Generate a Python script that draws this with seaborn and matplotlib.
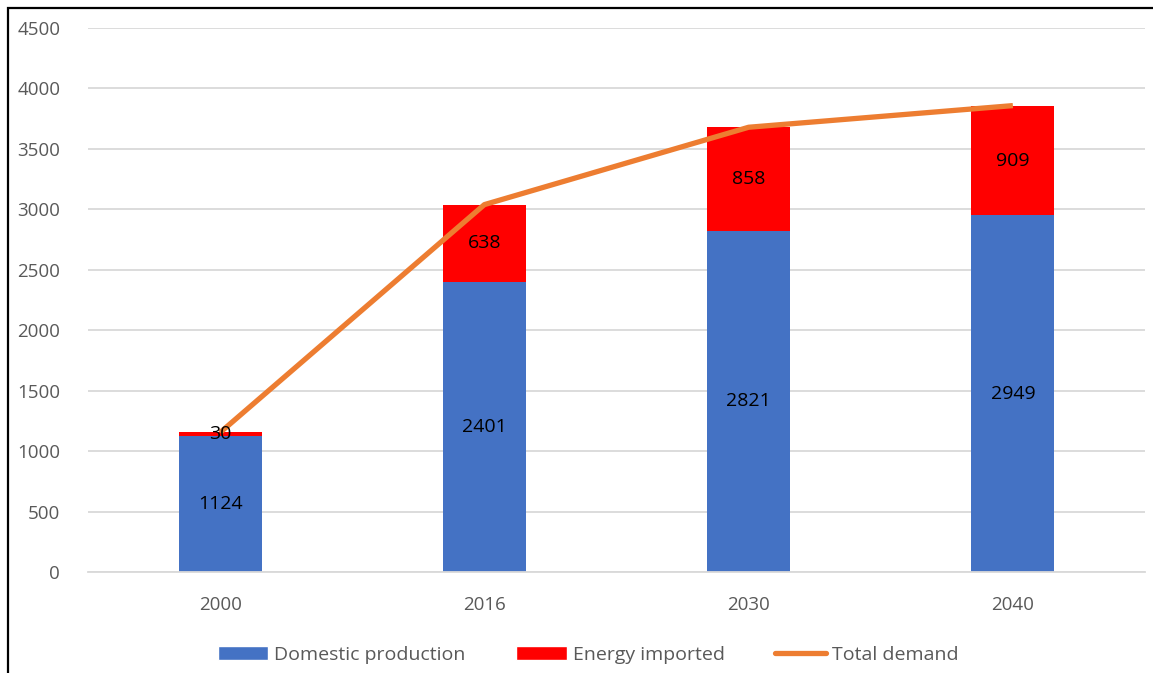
import numpy as np
import pandas as pd
import matplotlib
from matplotlib import pyplot as plt
from matplotlib.patches import Patch, Rectangle
from matplotlib.lines import Line2D
import seaborn as sns

years = ["2000", "2016", "2030", "2040"]
domestic = [1124, 2401, 2821, 2949]
imported = [30, 638, 858, 909]
total = [1154, 3039, 3679, 3858]

BLUE = "#4472C4"
RED = "#FF0000"
ORANGE = "#ED7D31"
GREY = "#595959"

sns.set_style("white")
plt.rcParams["font.family"] = ["Open Sans", "DejaVu Sans"]

df = pd.DataFrame({"year": years, "domestic": domestic, "imported": imported, "total": total})

fig = plt.figure(figsize=(11.53, 6.73), dpi=100)
W, H = 1153, 673
ax = fig.add_axes([88 / W, 1 - 572 / H, (1145 - 88) / W, (572 - 28) / H])

sns.barplot(data=df, x="year", y="domestic", color=BLUE, width=0.315, ax=ax,
            saturation=1, linewidth=0, zorder=2)
sns.barplot(data=df, x="year", y="imported", bottom=df["domestic"], color=RED,
            width=0.315, ax=ax, saturation=1, linewidth=0, zorder=2)
sns.lineplot(data=df, x="year", y="total", color=ORANGE, linewidth=3.8, ax=ax,
             sort=False, zorder=3, solid_capstyle="butt")

# data labels
for i in range(len(years)):
    ax.text(i, domestic[i] / 2, str(domestic[i]), ha="center", va="center",
            fontsize=14, color="black", zorder=4)
    ax.text(i, domestic[i] + imported[i] / 2, str(imported[i]), ha="center",
            va="center", fontsize=14, color="black", zorder=4)

ax.set_xlim(-0.5, 3.5)
ax.set_ylim(0, 4500)
ax.set_yticks(np.arange(0, 4501, 500))
ax.yaxis.grid(True, color="#D9D9D9", linewidth=1.3, zorder=0)
ax.set_axisbelow(True)
for s in ["left", "right", "top"]:
    ax.spines[s].set_visible(False)
ax.spines["bottom"].set_color("#D9D9D9")
ax.spines["bottom"].set_linewidth(1.3)
ax.tick_params(axis="both", length=0, labelsize=13.5, colors=GREY)
ax.tick_params(axis="x", pad=17)
ax.tick_params(axis="y", pad=20)
ax.set_xlabel("")
ax.set_ylabel("")

handles = [Patch(facecolor=BLUE, label="Domestic production"),
           Patch(facecolor=RED, label="Energy imported"),
           Line2D([0], [0], color=ORANGE, linewidth=3.8, label="Total demand")]
fig.legend(handles=handles, loc="center", bbox_to_anchor=(0.51, 1 - 655 / H), ncol=3,
           frameon=False, fontsize=14, labelcolor=GREY, handlelength=2.6,
           handleheight=0.7, handletextpad=0.3, columnspacing=2.6)

# outer frame
fig.patches.append(Rectangle((8 / W, -0.05), 1.1, 1.05 - 8 / H, transform=fig.transFigure,
                             fill=False, edgecolor="black", linewidth=1.6, clip_on=False))

fig.savefig("out.png", dpi=100)
